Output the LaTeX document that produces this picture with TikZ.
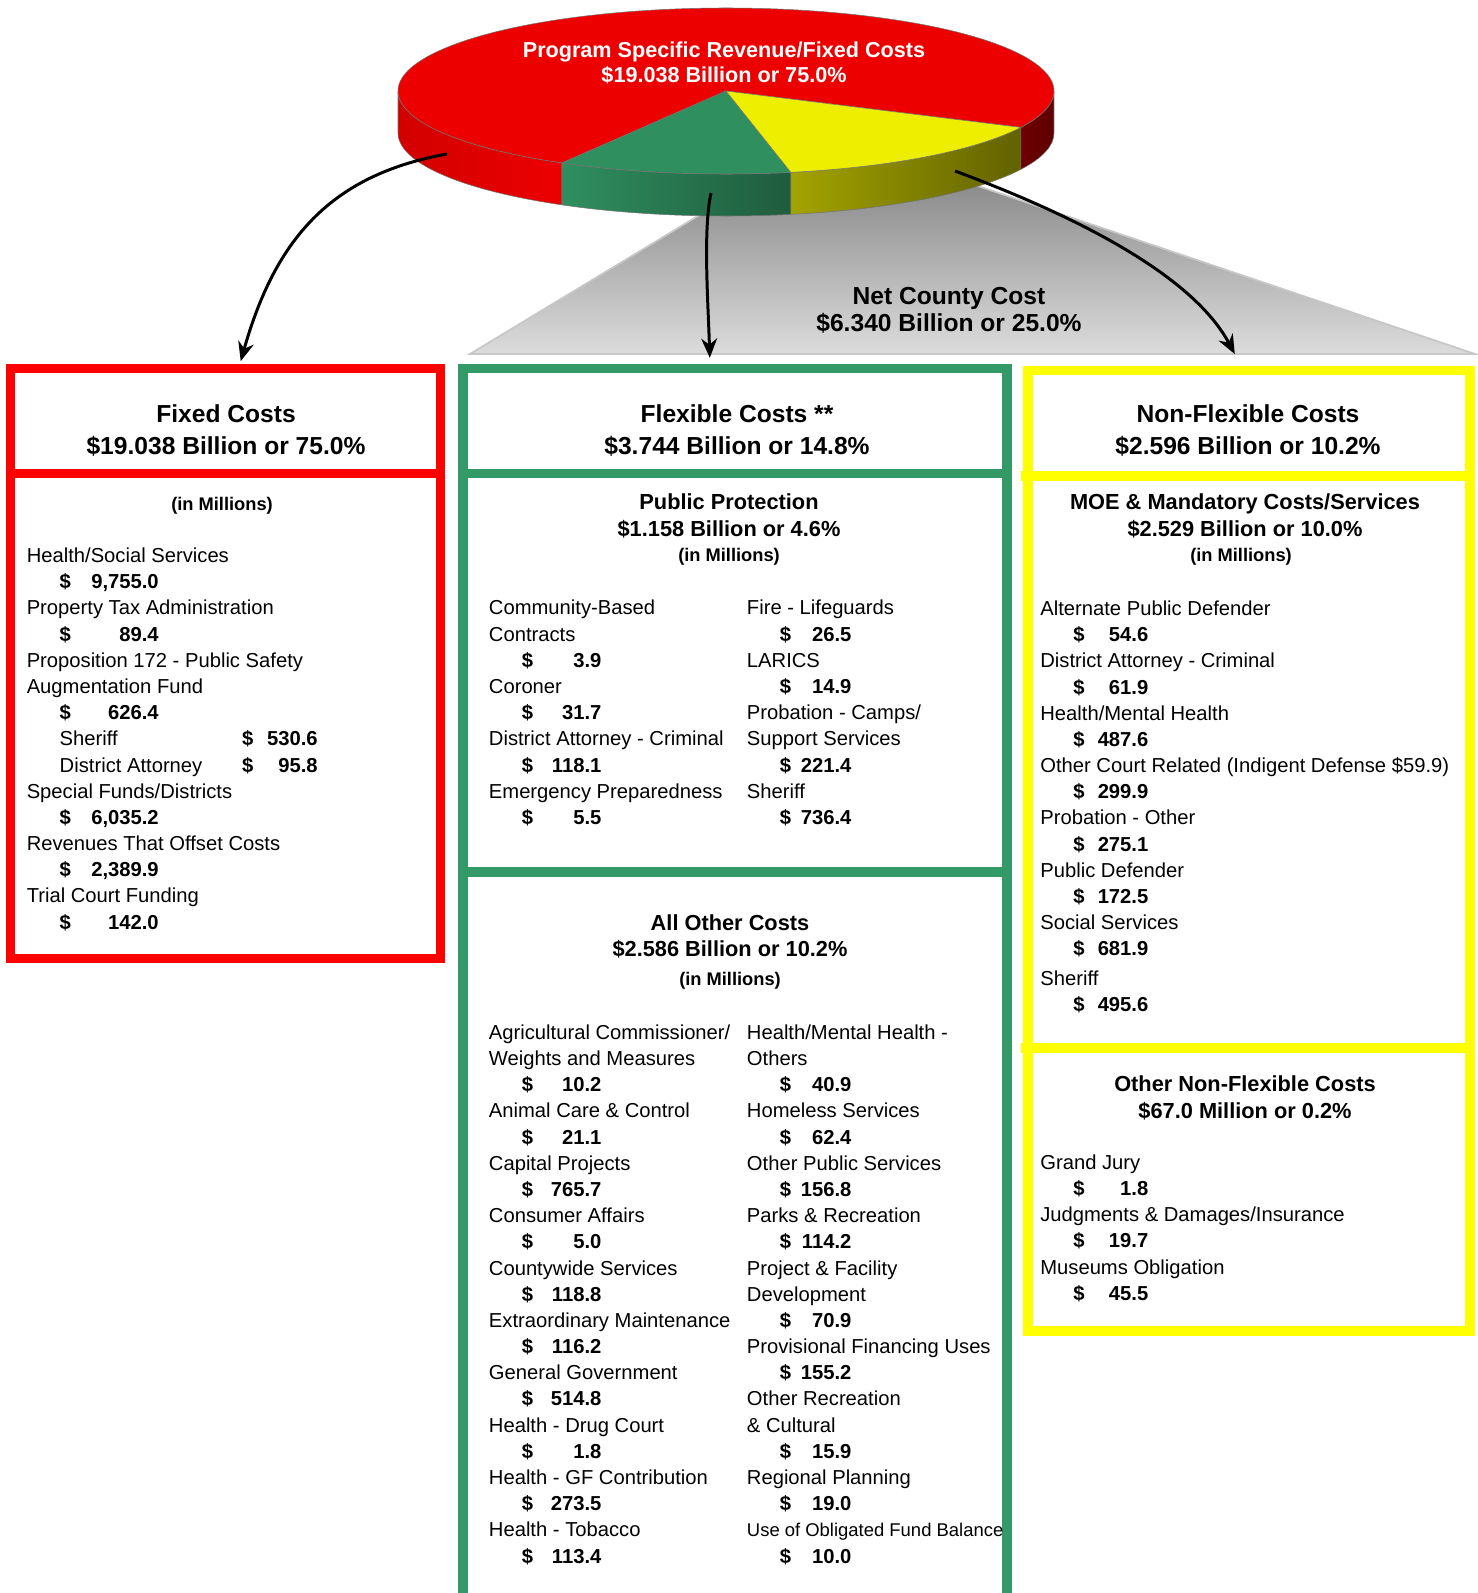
\documentclass[tikz,border=0pt]{standalone}
\usepackage{fontspec}
\setmainfont{Liberation Sans}
\usetikzlibrary{arrows.meta, positioning}
\definecolor{boxRed}{HTML}{FF0000}
\definecolor{boxGreen}{HTML}{339966}
\definecolor{boxYellow}{HTML}{FFFF00}
\definecolor{pieRed}{HTML}{EC0000}
\definecolor{pieRedSide}{HTML}{D20000}
\definecolor{pieRedDark}{HTML}{6E0000}
\definecolor{pieGreen}{HTML}{2F8F5F}
\definecolor{pieGreenSide}{HTML}{1F5C3E}
\definecolor{pieYellow}{HTML}{EEEE00}
\definecolor{pieYellowSide}{HTML}{A3A300}
\definecolor{pieYellowDark}{HTML}{626200}
\definecolor{shadowTop}{HTML}{8C8C8C}
\definecolor{shadowBottom}{HTML}{DCDCDC}
\newlength{\amtw}
\newcommand{\amt}[1]{\hspace*{0.66cm}\makebox[\amtw][l]{\textbf{\$}\hfill\textbf{#1}}}
\newcommand{\subamt}[2]{\hspace*{0.66cm}\makebox[3.65cm][l]{#1}\makebox[1.51cm][l]{\textbf{\$}\hfill\textbf{#2}}}
\tikzset{amt width/.code={\setlength{\amtw}{#1}}}
\tikzstyle{costbox} = [draw, line width=5.3pt, inner sep=0pt]
% multi-line nodes sit on the baseline of their last line
\tikzstyle{header} = [font=\fontsize{14}{18.4}\selectfont\bfseries,
align=center, anchor=base, inner sep=0pt]
\tikzstyle{subheader} = [font=\fontsize{12.4}{15}\selectfont\bfseries,
align=center, anchor=base, inner sep=0pt]
\tikzstyle{millions} = [font=\fontsize{10.4}{12.5}\selectfont\bfseries,
anchor=base, inner sep=0pt]
\tikzstyle{itemlist} = [font=\fontsize{11.5}{14.9}\selectfont,
align=left, anchor=base west, inner sep=0pt]
\tikzstyle{pielabel} = [font=\fontsize{12.3}{14.4}\selectfont\bfseries,
text=white, align=center, anchor=base, inner sep=0pt]
\tikzstyle{netlabel} = [font=\fontsize{14}{15.5}\selectfont\bfseries,
align=center, anchor=base, inner sep=0pt]
\tikzstyle{pierim} = [x radius=328, y radius=83]
\tikzstyle{pieedge} = [draw=black!55, line width=0.3pt]
\tikzstyle{arrow} = [line width=1.7pt, -{Stealth[length=11pt, width=9pt]}]

\begin{document}
\begin{tikzpicture}[x=0.02cm, y=-0.02cm]
    \useasboundingbox (0,0) rectangle (1478,1593);

    % Shadow under the pie
    \shadedraw[top color=shadowTop, bottom color=shadowBottom, draw=black!22, line width=1pt]
        (470,354) -- (716,205) -- (975,185) -- (1475,354) -- cycle;

    % Pie
    \coordinate (pc) at (726,91);
    \coordinate (rim180) at ({726+328*cos(180)},{91+83*sin(180)});
    \coordinate (rim120) at ({726+328*cos(120)},{91+83*sin(120)});
    \coordinate (rim78) at ({726+328*cos(78.6)},{91+83*sin(78.6)});
    \coordinate (rim26) at ({726+328*cos(26)},{91+83*sin(26)});
    \coordinate (rim0) at ({726+328*cos(0)},{91+83*sin(0)});

    \shadedraw[left color=pieRedSide, right color=pieRed, pieedge]
        (rim180) arc[pierim, start angle=180, end angle=120] -- ++(0,42)
        arc[pierim, start angle=120, end angle=180] -- cycle;
    \shadedraw[left color=pieGreen, right color=pieGreenSide, pieedge]
        (rim120) arc[pierim, start angle=120, end angle=78.6] -- ++(0,42)
        arc[pierim, start angle=78.6, end angle=120] -- cycle;
    \shadedraw[left color=pieYellowSide, right color=pieYellowDark, pieedge]
        (rim78) arc[pierim, start angle=78.6, end angle=26] -- ++(0,42)
        arc[pierim, start angle=26, end angle=78.6] -- cycle;
    \shadedraw[left color=pieRedDark, right color=pieRedDark!85!black, pieedge]
        (rim26) arc[pierim, start angle=26, end angle=0] -- ++(0,42)
        arc[pierim, start angle=0, end angle=26] -- cycle;

    \fill[pieRed, pieedge] (pc) -- (rim120) arc[pierim, start angle=120, end angle=386] -- cycle;
    \fill[pieGreen, pieedge] (pc) -- (rim78) arc[pierim, start angle=78.6, end angle=120] -- cycle;
    \fill[pieYellow, pieedge] (pc) -- (rim26) arc[pierim, start angle=26, end angle=78.6] -- cycle;

    \node[pielabel] (pietext) at (724,82.9) {Program Specific Revenue/Fixed Costs\\\$19.038 Billion or 75.0\%};
    \node[netlabel] (nettext) at (949,331.7) {Net County Cost\\\$6.340 Billion or 25.0\%};

    % Boxes
    \node[costbox, draw=boxRed, minimum width=8.596cm, minimum height=11.8cm] (fixedbox) at (225.4,663.7) {};
    \node[costbox, draw=boxGreen, minimum width=10.88cm, minimum height=24.626cm] (flexbox) at (735,984.35) {};
    \node[costbox, draw=boxYellow, minimum width=8.84cm, minimum height=19.214cm] (nonflexbox) at (1249,850.65) {};
    \draw[boxRed, line width=5.3pt] (10.5,473.5) -- (440.3,473.5);
    \draw[boxGreen, line width=5.3pt] (463,473.5) -- (1007,473.5);
    \draw[boxGreen, line width=5.3pt] (463,872) -- (1007,872);
    \draw[boxYellow, line width=5.3pt] (1021,476) -- (1465,476);
    \draw[boxYellow, line width=5.3pt] (1021,1048) -- (1465,1048);

    % Arrows
    \coordinate (fixedstart) at (447,154);
    \coordinate (flexstart) at (711,193);
    \coordinate (nonflexstart) at (955,171);
    \draw[arrow, shorten >=1.7pt] (fixedstart) .. controls (330,175) and (275,240) .. ([xshift=0.29cm]fixedbox.north);
    \draw[arrow, shorten >=3.6pt] (flexstart) .. controls (703,230) and (708,300) .. ([xshift=-0.5cm]flexbox.north);
    \draw[arrow, shorten >=7.5pt] (nonflexstart) .. controls (1060,210) and (1190,270) .. ([xshift=-0.16cm]nonflexbox.north);

    % Headers
    \node[header] (fixedhead) at (226,454.5) {Fixed Costs\\\$19.038 Billion or 75.0\%};
    \node[header] (flexhead) at (737,454.5) {Flexible Costs **\\\$3.744 Billion or 14.8\%};
    \node[header] (nonflexhead) at (1248,454.5) {Non-Flexible Costs\\\$2.596 Billion or 10.2\%};

    \node[millions] (fixedunit) at (222,510.3) {(in Millions)};
    \node[subheader] (pphead) at (729,536.1) {Public Protection\\\$1.158 Billion or 4.6\%};
    \node[millions] (ppunit) at (729,561) {(in Millions)};
    \node[subheader] (aohead) at (730,956.5) {All Other Costs\\\$2.586 Billion or 10.2\%};
    \node[millions] (aounit) at (730,985.7) {(in Millions)};
    \node[subheader] (moehead) at (1245,536.1) {MOE \& Mandatory Costs/Services\\\$2.529 Billion or 10.0\%};
    \node[millions] (moeunit) at (1241,561) {(in Millions)};
    \node[subheader] (onfhead) at (1245,1118.2) {Other Non-Flexible Costs\\\$67.0 Million or 0.2\%};

    % Item lists
    \node[itemlist, amt width=1.98cm] (fixedlist) at (26.4,929.1) {Health/Social Services\\
        \amt{9,755.0}\\
        Property Tax Administration\\
        \amt{89.4}\\
        Proposition 172 - Public Safety\\
        Augmentation Fund\\
        \amt{626.4}\\
        \subamt{Sheriff}{530.6}\\
        \subamt{District Attorney}{95.8}\\
        Special Funds/Districts\\
        \amt{6,035.2}\\
        Revenues That Offset Costs\\
        \amt{2,389.9}\\
        Trial Court Funding\\
        \amt{142.0}};

    \node[itemlist, amt width=1.59cm] (ppleft) at (488.6,824.4) {Community-Based\\
        Contracts\\
        \amt{3.9}\\
        Coroner\\
        \amt{31.7}\\
        District Attorney - Criminal\\
        \amt{118.1}\\
        Emergency Preparedness\\
        \amt{5.5}};
    \node[itemlist, amt width=1.43cm] (ppright) at (746.6,824.4) {Fire - Lifeguards\\
        \amt{26.5}\\
        LARICS\\
        \amt{14.9}\\
        Probation - Camps/\\
        Support Services\\
        \amt{221.4}\\
        Sheriff\\
        \amt{736.4}};

    \node[itemlist, amt width=1.59cm] (aoleft) at (488.6,1563) {Agricultural Commissioner/\\
        Weights and Measures\\
        \amt{10.2}\\
        Animal Care \& Control\\
        \amt{21.1}\\
        Capital Projects\\
        \amt{765.7}\\
        Consumer Affairs\\
        \amt{5.0}\\
        Countywide Services\\
        \amt{118.8}\\
        Extraordinary Maintenance\\
        \amt{116.2}\\
        General Government\\
        \amt{514.8}\\
        Health - Drug Court\\
        \amt{1.8}\\
        Health - GF Contribution\\
        \amt{273.5}\\
        Health - Tobacco\\
        \amt{113.4}};
    \node[itemlist, amt width=1.43cm] (aoright) at (746.6,1563) {Health/Mental Health -\\
        Others\\
        \amt{40.9}\\
        Homeless Services\\
        \amt{62.4}\\
        Other Public Services\\
        \amt{156.8}\\
        Parks \& Recreation\\
        \amt{114.2}\\
        Project \& Facility\\
        Development\\
        \amt{70.9}\\
        Provisional Financing Uses\\
        \amt{155.2}\\
        Other Recreation\\
        \& Cultural\\
        \amt{15.9}\\
        Regional Planning\\
        \amt{19.0}\\
        {\fontsize{10.5}{14.9}\selectfont Use of Obligated Fund Balance}\\
        \amt{10.0}};

    \node[itemlist, amt width=1.5cm] (moelist) at (1040,1011.2) {Alternate Public Defender\\
        \amt{54.6}\\
        District Attorney - Criminal\\
        \amt{61.9}\\
        Health/Mental Health\\
        \amt{487.6}\\
        Other Court Related (Indigent Defense \$59.9)\\
        \amt{299.9}\\
        Probation - Other\\
        \amt{275.1}\\
        Public Defender\\
        \amt{172.5}\\
        Social Services\\
        \amt{681.9}\\[1.7pt]
        Sheriff\\
        \amt{495.6}};

    \node[itemlist, amt width=1.5cm] (onflist) at (1040,1300.2) {Grand Jury\\
        \amt{1.8}\\
        Judgments \& Damages/Insurance\\
        \amt{19.7}\\
        Museums Obligation\\
        \amt{45.5}};
\end{tikzpicture}
\end{document}
